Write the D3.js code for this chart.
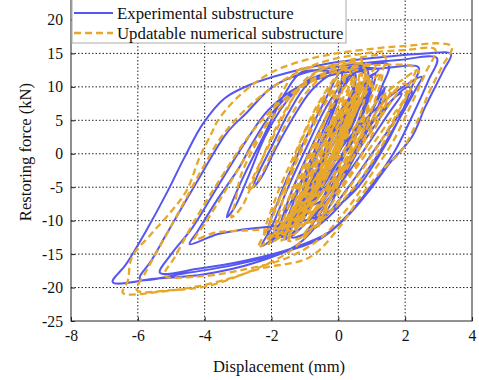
<html>
<head>
<meta charset="utf-8">
<script src="https://d3js.org/d3.v7.min.js"></script>
<style>
body { margin: 0; background: #fff; }
text { font-family: "Times New Roman", "Liberation Serif", serif; }
</style>
</head>
<body>
<div id="chart"></div>
<script>
var xTicks = [-8, -6, -4, -2, 0, 2, 4];
var yTicks = [-25, -20, -15, -10, -5, 0, 5, 10, 15, 20];
var seriesNames = ["Experimental substructure", "Updatable numerical substructure"];

// experimental substructure, [displacement mm, force kN] in time order
var expPoints = [
  [0,0],[0.4,4],[0.6,6.5],[0.4,5],[-0.2,-1],[-0.8,-6],[-1.1,-8.5],[-0.9,-7],[-0.3,-1.5],[0.3,4.5],[0.8,9],[1.0,10],
  [0.7,7.5],[0.1,1],[-0.6,-5.5],[-1.3,-10.5],[-1.6,-11.8],[-1.3,-9.5],[-0.7,-3.5],[-0.1,3],[0.5,8.5],[0.9,11],
  [0.7,9.5],[0,3],[-0.8,-4.5],[-1.5,-10],[-2.0,-12.6],[-1.7,-10],[-1.1,-4],[-0.5,3],[0,8.5],[0.4,12],
  [0.5,11],[0.1,6],[-0.5,-1],[-1.1,-7],[-1.7,-11.5],[-2.3,-13.8],[-2.0,-11],[-1.5,-5],[-0.9,1.5],[-0.3,7.5],[0.3,11.5],[0.8,13],
  [0.9,11.5],[0.5,6],[-0.1,-1],[-0.7,-7],[-1.3,-11.5],[-1.6,-12.8],[-1.3,-10],[-0.7,-3],[-0.1,4],[0.6,10],[1.2,12.6],
  [0.8,12.8],[-0.2,12.3],[-0.9,10.5],[-1.5,6],[-2.0,1],[-2.4,-3],[-2.55,-5],[-2.3,-3.5],[-1.9,0.5],[-1.4,5],[-0.8,9.5],[-0.1,12.2],[0.8,13.2],
  [0.7,12.4],[-0.3,12.4],[-1.1,12.2],[-1.6,9],[-2.2,3],[-2.8,-3],[-3.2,-7.5],[-3.34,-9.5],[-3.1,-8],[-2.7,-3.5],[-2.2,2.5],[-1.6,7.5],[-0.9,11],[0.3,12.8],[1.5,13.3],
  [1.3,10],[0.8,4],[0.2,-3],[-0.4,-9],[-1.2,-13.5],[-2.5,-16.3],[-4,-18],[-5.5,-18.7],[-6.75,-19.2],
  [-6.35,-16.5],[-5.75,-11.5],[-5.15,-6],[-4.6,-0.5],[-4.05,4.5],[-3.4,8.3],[-2.6,10.4],[-1.6,12],[-0.3,13.5],[1.2,14.4],[2.6,15.0],[3.37,14.9],
  [3.15,12.5],[2.6,7],[2.2,2.5],[1.52,-1.5],[0.93,-5.5],[0.24,-9.5],[-0.5,-12.6],[-1.5,-14.5],[-3,-16.5],[-4.5,-17.8],[-5.94,-18.7],
  [-5.6,-16],[-5.13,-11.9],[-4.15,-3.5],[-3.34,3.1],[-2.75,6.1],[-1.97,10],[-1.07,12],[0.2,13.2],[1.8,14],[2.95,14.3],
  [2.7,11],[2.2,5.5],[1.7,0.5],[1.1,-4],[0.4,-8.5],[-0.3,-11.8],[-1.3,-14],[-2.8,-16],[-4.2,-17.2],[-5.34,-17.8],
  [-5.0,-15],[-4.36,-11],[-3.55,-4.4],[-2.75,2],[-2.1,6.5],[-1.2,10],[0,12],[1.4,12.8],[2.4,12.9],
  [2.2,10],[1.8,5],[1.2,-0.5],[0.5,-5.5],[-0.4,-9],[-1.5,-10.5],[-2.8,-11.3],[-3.6,-12],[-4.45,-13.5],
  [-4.2,-11.5],[-3.64,-7],[-2.96,-2],[-2.57,1.6],[-2.0,6],[-1.3,9.5],[-0.5,11.8],[0.6,12.6],
  [0.9,11],[0.5,6],[-0.2,-1],[-0.9,-7.5],[-1.5,-11.5],[-2.0,-13.2],[-1.6,-11.5],[-0.9,-6],[-0.2,-1],[0.6,4],[1.4,8],[2.0,10.2],[2.5,11.5],
  [2.3,9.5],[1.8,5],[1.2,0],[0.5,-5],[-0.3,-9.5],[-1.0,-12],[-1.4,-12.5],[-1.0,-10.5],[-0.3,-5.5],[0.4,0],[1.0,4.5],[1.6,8],[2.1,10],
  [2.2,9],[1.7,5],[1.0,0],[0.3,-5],[-0.4,-9.5],[-1.0,-12],[-0.7,-10],[0,-5],[0.6,0.5],[1.2,5],[1.7,8.5],[1.9,9],
  [1.5,6],[0.9,1.5],[0.2,-3.5],[-0.5,-8],[-0.9,-10],[-0.5,-7.5],[0.1,-3],[0.6,1.5],[0.9,5],[0.7,4],[0.2,0],[-0.3,-3],
  [-1.0,-8],[-1.8,-12.5],[-1.5,-7],[-0.9,0],[-0.2,7],[0.5,12],[0.4,8],[-0.2,1],[-0.9,-6],[-1.4,-11],[-1.1,-6],[-0.6,0],[0.1,6.5],[1.0,11.5],
  [0.8,7],[0.2,0],[-0.6,-6.5],[-1.5,-10.5],[-2.1,-12],[-1.8,-7],[-1.2,0],[-0.5,7],[0.1,12.5],[0,8.5],[-0.5,2],[-1.0,-4],[-1.1,-8.5],
  [-0.8,-5],[-0.2,1],[0.5,6.5],[0.9,9.5],[0.6,5],[-0.1,-2],[-0.9,-8],[-1.7,-12.5],[-1.4,-8],[-0.8,-1],[0,6],[0.7,10.5],[1.1,12],
  [0.9,8],[0.3,1],[-0.4,-6],[-0.8,-11],[-0.4,-6],[0.2,0],[0.9,5.5],[1.4,10],[1.1,6],[0.4,-1],[-0.5,-7],[-1.0,-8]
];

// updatable numerical substructure, [displacement mm, force kN] in time order
var numPoints = [
  [0,0],[0.3,4.5],[0.5,7],[0.3,5],[-0.3,-1.5],[-0.9,-6.5],[-1.2,-9],[-0.9,-7],[-0.3,-1],[0.3,5],[0.8,9.5],[1.0,10.5],
  [0.7,8],[0,1.5],[-0.7,-5],[-1.4,-10.5],[-1.7,-12],[-1.4,-9.5],[-0.8,-3],[-0.1,3.5],[0.5,9],[0.9,11.5],
  [0.6,9.5],[-0.1,3],[-0.9,-4.5],[-1.6,-10],[-2.1,-12.8],[-1.8,-10],[-1.2,-3.5],[-0.6,3],[-0.1,8.5],[0.3,12.5],
  [0.4,11],[0,6],[-0.6,-1],[-1.2,-7],[-1.8,-11.5],[-2.4,-14],[-2.1,-11],[-1.6,-5],[-1.0,1.5],[-0.4,7.5],[0.2,11.8],[0.7,13.5],
  [0.8,12],[0.4,6],[-0.2,-1],[-0.8,-7],[-1.4,-11.5],[-1.7,-13],[-1.4,-10],[-0.8,-3],[-0.2,4],[0.5,10],[1.1,13],
  [0.7,13.5],[-0.3,13],[-1.0,11],[-1.6,6],[-2.1,1],[-2.5,-3],[-2.7,-5.5],[-2.4,-4],[-2.0,0],[-1.5,5],[-0.9,9.5],[-0.2,12.5],[0.7,14],
  [0.6,13],[-0.4,13],[-1.2,12.5],[-1.7,9],[-2.3,3],[-2.9,-3],[-3.1,-7.5],[-3.2,-9.5],[-2.9,-8],[-2.5,-3.5],[-2.0,2.5],[-1.4,8],[-0.7,12],[0.5,14.2],[1.4,14.5],
  [1.2,11],[0.7,5],[0.1,-2.5],[-0.5,-9],[-1.3,-14],[-2.6,-17.5],[-4,-19.6],[-5.3,-20.6],[-6.45,-20.8],
  [-6.3,-19],[-6.18,-15.5],[-5.6,-12],[-5.05,-8.9],[-4.54,-5.5],[-4.15,-0.5],[-3.8,3],[-3.6,5],[-3.0,8.5],[-2.06,12],[-1.0,14],[-0.06,15],[1.2,15.8],[2.2,16.2],[3.0,16.5],[3.4,16],
  [3.1,13],[2.7,9],[2.33,4.5],[1.9,0.5],[1.3,-2.5],[0.72,-6],[0.03,-11],[-0.87,-15.5],[-2.36,-17.2],[-3.85,-19.7],[-5,-20.4],[-6.03,-20.4],
  [-5.8,-18],[-5.3,-13.5],[-4.7,-8],[-4.1,-2.5],[-3.5,2.5],[-2.8,6.5],[-1.8,10.5],[-0.6,13.5],[0.8,15],[2.0,15.5],[2.9,15.6],
  [2.6,12],[2.1,6.5],[1.6,1.5],[1.0,-3],[0.3,-8],[-0.5,-12.5],[-1.5,-15.5],[-3.0,-17.5],[-4.3,-18.4],[-5.2,-18.2],
  [-4.9,-15.5],[-4.3,-10],[-3.5,-3.5],[-2.7,2.5],[-2.0,6.5],[-1.1,10],[0.1,12.5],[1.4,13.3],[2.3,12.8],
  [2.1,10],[1.7,5],[1.1,-0.5],[0.4,-5.5],[-0.5,-9.5],[-1.6,-11],[-2.9,-11.5],[-3.7,-11.8],[-4.3,-12.8],
  [-4.0,-10.5],[-3.5,-6.5],[-2.9,-1.5],[-2.4,2.5],[-1.8,6.5],[-1.1,10],[-0.3,12.3],[0.7,13],
  [0.9,11.5],[0.5,6],[-0.2,-1],[-0.9,-7.5],[-1.5,-11.5],[-2.1,-13.5],[-1.7,-11.5],[-1.0,-6],[-0.3,-1],[0.5,4],[1.3,8.5],[1.9,11],[2.4,12.5],
  [2.2,10],[1.7,5.5],[1.1,0.5],[0.4,-4.5],[-0.4,-9.5],[-1.1,-12.5],[-1.5,-13],[-1.1,-11],[-0.4,-6],[0.3,-0.5],[0.9,4.5],[1.5,8.5],[2.0,10.5],
  [2.1,9.5],[1.6,5.5],[0.9,0.5],[0.2,-4.5],[-0.5,-9.5],[-1.1,-12.5],[-0.8,-10.5],[-0.1,-5.5],[0.5,0],[1.1,5],[1.6,9],[1.8,9.5],
  [1.4,6.5],[0.8,2],[0.1,-3],[-0.6,-8],[-1.0,-10.5],[-0.6,-8],[0,-3.5],[0.5,1],[0.8,4.5],[0.6,3.5],[0.1,0],
  [-0.8,-6],[-1.5,-10],[-1.9,-12],[-1.6,-6],[-1.0,2],[-0.3,9],[0.6,12.5],[0.5,9],[-0.1,1],[-0.7,-5],[-1.1,-9],[-1.3,-11],
  [-1.0,-6],[-0.5,0],[0.2,7],[1.0,11],[0.9,7],[0.3,0],[-0.5,-6],[-1.5,-11],[-2.2,-12.5],[-1.9,-7],[-1.3,0],[-0.6,7.5],[0.2,13],
  [0.1,9],[-0.4,2],[-0.9,-4],[-1.0,-9],[-0.7,-5],[-0.2,1],[0.4,6],[0.8,9],[0.6,5],[0,-2],[-0.8,-8],[-1.6,-13],
  [-1.3,-8],[-0.7,-1],[0.1,6],[0.8,10],[1.3,12],[1.1,8],[0.5,1],[-0.2,-6],[-0.6,-11],[-0.2,-6],[0.4,0],[1.0,5],[1.6,10],
  [1.3,6],[0.6,-1],[-0.3,-7],[-1.2,-9.5],[-2.0,-10],[-1.6,-5],[-1.1,2],[-0.5,8],[0,11.5],[-0.2,8],[-0.6,2],[-1.1,-4],[-1.4,-7],
  [-1.0,-3],[-0.4,3],[0.2,7],[0.5,8],[0.3,5],[-0.1,0],
  [-0.7,-6],[-1.3,-10.5],[-1.8,-12.5],[-1.5,-8],[-1.0,-2],[-0.4,5],[0.2,10],[0.5,11.5],[0.3,8],[-0.2,2],[-0.8,-5],[-1.3,-9],[-1.5,-10],
  [-1.2,-6],[-0.7,0],[-0.1,6],[0.4,10.5],[0.7,12],[0.5,8.5],[0,2],[-0.6,-4.5],[-1.1,-9.5],[-1.2,-11],[-0.9,-7],[-0.4,-1],[0.2,5],
  [0.6,9],[0.8,10],[0.5,6],[-0.1,-1],[-0.7,-7],[-0.9,-9],[-0.6,-5],[-0.1,1],[0.4,7],[0.6,8],[0.3,4],[-0.2,-2],[-0.5,-5],[-0.3,-2],[0,1]
];

var width = 479, height = 380;
var plotLeft = 71, plotRight = 472, plotTop = -13.5, plotBottom = 321;
var fontFamily = "'Times New Roman', 'Liberation Serif', serif";

var svg = d3.select("#chart").append("svg")
    .attr("width", width)
    .attr("height", height);

var x = d3.scaleLinear().domain([-8, 4]).range([plotLeft, plotRight]);
var y = d3.scaleLinear().domain([-25, 25]).range([plotBottom, plotTop]);

// dotted grid
var grid = svg.append("g");
grid.selectAll(".vg").data(xTicks.slice(1, -1)).enter().append("line")
    .attr("x1", function(d) { return x(d); }).attr("x2", function(d) { return x(d); })
    .attr("y1", plotTop).attr("y2", plotBottom)
    .attr("stroke", "#222").attr("stroke-width", 1).attr("stroke-dasharray", "1.5,2");
grid.selectAll(".hg").data(yTicks.slice(1)).enter().append("line")
    .attr("x1", plotLeft).attr("x2", plotRight)
    .attr("y1", function(d) { return y(d); }).attr("y2", function(d) { return y(d); })
    .attr("stroke", "#222").attr("stroke-width", 1).attr("stroke-dasharray", "1.5,2");

svg.append("clipPath").attr("id", "plot")
    .append("rect").attr("x", plotLeft).attr("y", plotTop)
    .attr("width", plotRight - plotLeft).attr("height", plotBottom - plotTop);

var line = d3.line()
    .x(function(d) { return x(d[0]); })
    .y(function(d) { return y(d[1]); })
    .curve(d3.curveCatmullRom.alpha(0.5));

svg.append("path").datum(expPoints)
    .attr("clip-path", "url(#plot)")
    .attr("d", line)
    .attr("fill", "none")
    .attr("stroke", "#5656f0")
    .attr("stroke-width", 2);

svg.append("path").datum(numPoints)
    .attr("clip-path", "url(#plot)")
    .attr("d", line)
    .attr("fill", "none")
    .attr("stroke", "#e6a72a")
    .attr("stroke-width", 2.3)
    .attr("stroke-dasharray", "7,4");

// frame and axes
function styleAxis(g) {
    g.select(".domain").remove();
    g.selectAll("line").attr("stroke", "#222");
    g.selectAll("text").attr("font-size", 15.7).attr("fill", "#111")
        .attr("font-family", fontFamily);
}
svg.append("g")
    .attr("transform", "translate(0," + plotBottom + ")")
    .call(d3.axisBottom(x).tickValues(xTicks).tickSize(-4).tickPadding(9)
        .tickFormat(function(d) { return String(d); }))
    .call(styleAxis);
svg.append("g")
    .attr("transform", "translate(" + plotLeft + ",0)")
    .call(d3.axisLeft(y).tickValues(yTicks).tickSize(-4).tickPadding(8)
        .tickFormat(function(d) { return String(d); }))
    .call(styleAxis);
svg.append("rect")
    .attr("x", plotLeft).attr("y", plotTop)
    .attr("width", plotRight - plotLeft).attr("height", plotBottom - plotTop)
    .attr("fill", "none").attr("stroke", "#222").attr("stroke-width", 1);

// legend
var legend = svg.append("g");
legend.append("rect")
    .attr("x", plotLeft + 1).attr("y", -10)
    .attr("width", 274).attr("height", 53)
    .attr("fill", "#fff").attr("stroke", "#aaa").attr("stroke-width", 1);
var colors = ["#5656f0", "#e6a72a"];
seriesNames.forEach(function(name, i) {
    var ly = 13 + i * 20;
    legend.append("line")
        .attr("x1", 74).attr("x2", 113).attr("y1", ly).attr("y2", ly)
        .attr("stroke", colors[i]).attr("stroke-width", i ? 2.3 : 2.2)
        .attr("stroke-dasharray", i ? "7,4" : null);
    legend.append("text")
        .attr("x", 117).attr("y", ly + 5.5)
        .attr("font-size", 16.8).attr("fill", "#111").attr("font-family", fontFamily)
        .text(name);
});

// axis titles
svg.append("text")
    .attr("x", 279).attr("y", 372)
    .attr("text-anchor", "middle").attr("font-size", 16.6).attr("fill", "#111").attr("font-family", fontFamily)
    .text("Displacement (mm)");
svg.append("text")
    .attr("transform", "translate(31,152) rotate(-90)")
    .attr("text-anchor", "middle").attr("font-size", 16.6).attr("fill", "#111").attr("font-family", fontFamily)
    .text("Restoring force (kN)");
</script>
</body>
</html>
